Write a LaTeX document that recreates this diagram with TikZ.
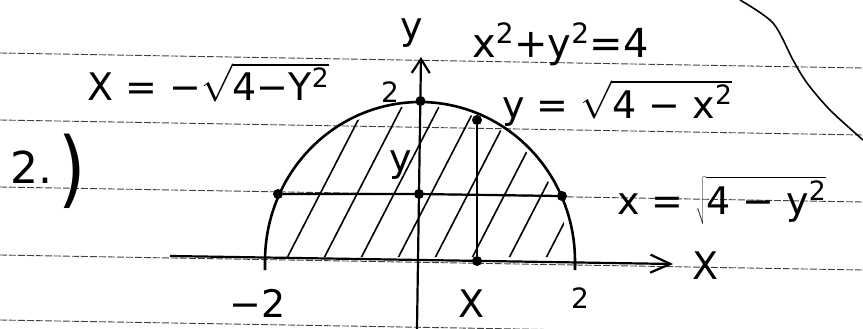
\RequirePackage{fix-cm}
\documentclass[tikz,border=0pt]{standalone}
\usepackage{fontspec}
\setmainfont{DejaVu Sans}
\usetikzlibrary{arrows.meta}
\begin{document}
\begin{tikzpicture}[x=1pt,y=-1pt,
  lbl/.style={inner sep=0pt, font=\fontsize{38}{38}\selectfont},
  small/.style={inner sep=0pt, font=\fontsize{28}{28}\selectfont},
  ruled/.style={black!75, line width=0.9pt, dash pattern=on 7pt off 2pt},
  curve/.style={line width=2.6pt},
  axis/.style={line width=2.2pt},
  thinl/.style={line width=1.8pt},
  hatch/.style={line width=1.6pt},
  dot/.style={circle, fill, inner sep=0pt, minimum size=10pt}]
\useasboundingbox (0,0) rectangle (863,329);
% ruled notebook lines
\draw[ruled] (0,53) -- (863,68);
\draw[ruled] (0,120) -- (863,135);
\draw[ruled] (0,187) -- (863,202);
\draw[ruled] (0,255) -- (863,270);
\draw[ruled] (0,320) -- (863,335);
% corner curve
\draw[line width=1.6pt] plot[smooth] coordinates {(740,0) (773,23) (793,60) (807,83) (830,110) (863,140)};
% hatching
\begin{scope}
\clip plot[domain=0:180,samples=60] ({420+148*cos(\x)},{257-151*sin(\x)}) -- cycle;
\foreach \a in {250,287,...,546} \draw[hatch] (\a,258) -- ++(100,-194);
\end{scope}
% semicircle
\draw[curve] (575,270) -- plot[domain=0:180,samples=90] ({420+155*cos(\x)},{261-159*sin(\x)}) -- (265,270);
% axes
\coordinate (yb) at (417,329);
\coordinate (yt) at (421,57);
\coordinate (xl) at (170,256);
\coordinate (xr) at (673,264);
\draw[axis, -{Straight Barb[length=14pt,width=18pt]}] (yb) -- (yt);
\draw[axis, -{Straight Barb[length=20pt,width=18pt]}] (xl) -- (xr);
% dots
\node[dot] (top) at (420.5,101) {};
\node[dot] (cl) at (278,194) {};
\node[dot] (cc) at (419,194) {};
\node[dot] (cr) at (562,196) {};
\node[dot] (pc) at (477,120) {};
\node[dot] (px) at (477,261) {};
\draw[axis] (cl) -- (cc) -- (cr);
\draw[thinl] (pc) -- (px);
% labels
\node[lbl, anchor=base] (ylab) at (412,40) {y};
\node[lbl] (xlab) at (706,266) {X};
\node[small] (two) at (390,92) {2};
\node[lbl] (yin) at (401,165) {y};
\node[lbl] (m2) at (258,303) {−2};
\node[lbl] (xb) at (472,304) {X};
\node[small] (p2) at (580,298) {2};
\node[lbl, anchor=base west] (eqL) at (87,101) {X = −$\sqrt{\mbox{4−Y\textsuperscript{2}}}$};
\node[lbl, anchor=base west, font=\fontsize{40}{40}\selectfont] (circ) at (472,58) {x\textsuperscript{2}+y\textsuperscript{2}=4};
\node[lbl, anchor=base west] (eqT) at (502,118) {y = $\sqrt{\mbox{4 − x\textsuperscript{2}}}$};
\node[lbl, anchor=base west] (eqR) at (617,214) {x = $\sqrt{\mbox{4 − y\textsuperscript{2}}}$};
\node[lbl, anchor=base west, font=\fontsize{44}{44}\selectfont] (num) at (10,183) {2.\hspace{6pt}\raisebox{-14pt}{\scalebox{1.6}[1.9]{)}}};
\end{tikzpicture}
\end{document}
